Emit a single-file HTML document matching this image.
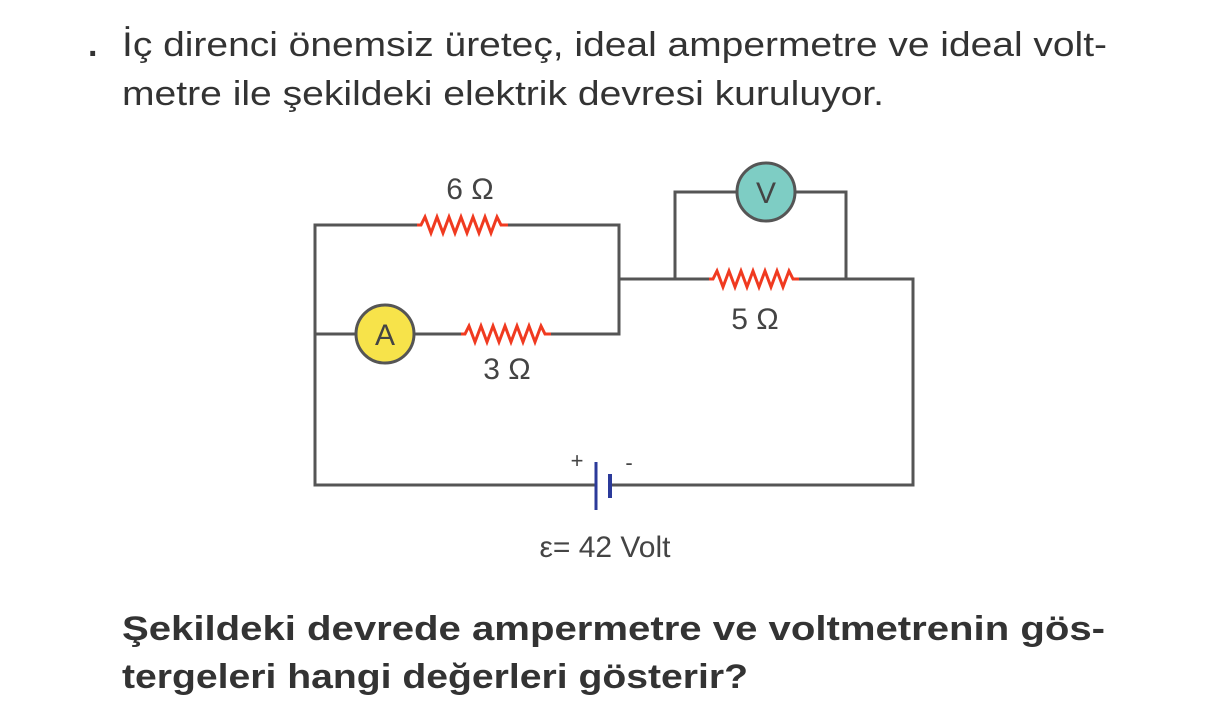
<!DOCTYPE html>
<html><head><meta charset="utf-8"><style>
html,body{margin:0;padding:0;background:#fff;}
svg{display:block;}
text{font-family:"Liberation Sans",sans-serif;}
</style></head><body>
<svg width="1229" height="708" viewBox="0 0 1229 708" xmlns="http://www.w3.org/2000/svg">
<g fill="#333" font-size="34">
<text x="88" y="56" font-weight="bold">.</text>
<text x="122" y="56" textLength="985" lengthAdjust="spacingAndGlyphs">İç direnci önemsiz üreteç, ideal ampermetre ve ideal volt-</text>
<text x="122" y="105" textLength="762" lengthAdjust="spacingAndGlyphs">metre ile şekildeki elektrik devresi kuruluyor.</text>
<text x="122" y="640" font-weight="bold" textLength="983" lengthAdjust="spacingAndGlyphs">Şekildeki devrede ampermetre ve voltmetrenin gös-</text>
<text x="122" y="688" font-weight="bold" textLength="626" lengthAdjust="spacingAndGlyphs">tergeleri hangi değerleri gösterir?</text>
</g>
<g stroke="#555" stroke-width="3" fill="none">
<polyline points="417,225 315,225 315,485 596,485"/>
<polyline points="508,225 619,225 619,334 551,334"/>
<line x1="315" y1="334" x2="356" y2="334"/>
<line x1="414" y1="334" x2="461" y2="334"/>
<polyline points="619,279 709,279"/>
<polyline points="799,279 913,279 913,485 610,485"/>
<polyline points="675,279 675,192 737,192"/>
<polyline points="795,192 846,192 846,279"/>
</g>
<g stroke="#f03a20" stroke-width="3" fill="none" stroke-linejoin="miter">
<polyline points="417,225 421,225 425,217 431,233 437,217 443,233 449,217 455,233 461,217 467,233 473,217 479,233 485,217 491,233 497,217 501,225 508,225"/>
<polyline points="461,334 465,334 469,326 475,342 481,326 487,342 493,326 499,342 505,326 511,342 517,326 523,342 529,326 535,342 541,326 545,334 551,334"/>
<polyline points="709,279 713,279 717,271 723,287 729,271 735,287 741,271 747,287 753,271 759,287 765,271 771,287 777,271 783,287 789,271 793,279 799,279"/>
</g>
<circle cx="385" cy="334" r="29" fill="#f7e34a" stroke="#555" stroke-width="3"/>
<circle cx="766" cy="192" r="29" fill="#7ecdc4" stroke="#555" stroke-width="3"/>
<g fill="#444" font-size="30" text-anchor="middle">
<text x="385" y="345">A</text>
<text x="766" y="203">V</text>
<text x="470" y="199">6 Ω</text>
<text x="507" y="379">3 Ω</text>
<text x="755" y="329">5 Ω</text>
<text x="605" y="557">ε= 42 Volt</text>
<text x="577" y="468" font-size="22">+</text>
<text x="629" y="470" font-size="22">-</text>
</g>
<line x1="596" y1="462" x2="596" y2="510" stroke="#2b3a9a" stroke-width="3"/>
<line x1="610" y1="474" x2="610" y2="498" stroke="#2b3a9a" stroke-width="4"/>
</svg>
</body></html>
